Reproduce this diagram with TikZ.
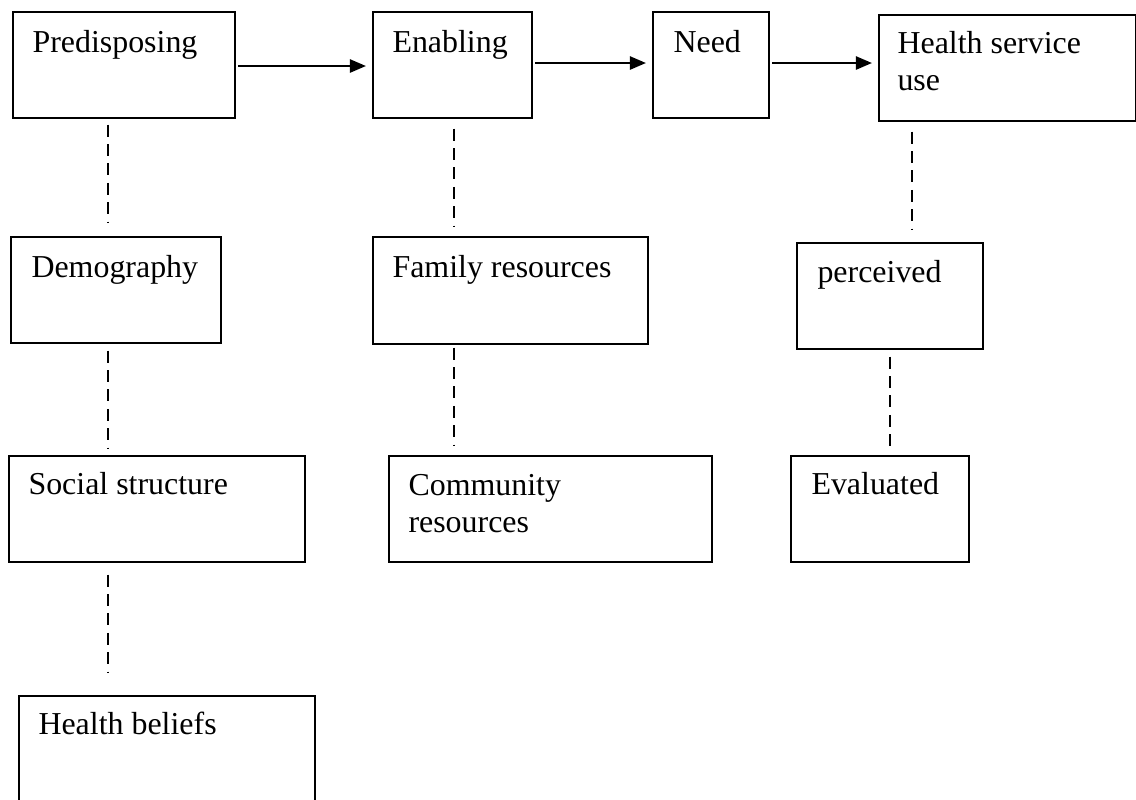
\documentclass[tikz,border=0pt]{standalone}
\usepackage{fontspec}
\setmainfont{Liberation Serif}
\usetikzlibrary{arrows.meta,calc}
\newcommand{\px}{0.376pt}
\tikzset{
  box/.style={draw, line width=0.6pt, inner sep=0pt, anchor=north west},
  lbl/.style={anchor=base west, inner sep=0pt, align=left,
    font=\fontsize{12}{13.8}\selectfont},
  flow/.style={line width=0.6pt, -{Triangle[length=6pt,width=5pt]},
    shorten <=1pt, shorten >=2.3pt},
  link/.style={line width=0.6pt, dash pattern=on 4.5pt off 2.8pt}
}
\begin{document}
\begin{tikzpicture}[x=\px,y=-\px]
          \clip (0,0) rectangle (1136,799);
          % top row
          \node[box, minimum width=222*\px, minimum height=106*\px] (pre) at (12,11) {};
          \node[box, minimum width=159*\px, minimum height=106*\px] (en) at (372,11) {};
          \node[box, minimum width=116*\px, minimum height=106*\px] (need) at (652,11) {};
          \node[box, minimum width=257*\px, minimum height=106*\px] (hsu) at (878,14) {};
          % second row
          \node[box, minimum width=210*\px, minimum height=106*\px] (demo) at (10,236) {};
          \node[box, minimum width=275*\px, minimum height=107*\px] (fam) at (372,236) {};
          \node[box, minimum width=186*\px, minimum height=106*\px] (perc) at (796,242) {};
          % third row
          \node[box, minimum width=296*\px, minimum height=106*\px] (soc) at (8,455) {};
          \node[box, minimum width=323*\px, minimum height=106*\px] (com) at (388,455) {};
          \node[box, minimum width=178*\px, minimum height=106*\px] (eval) at (790,455) {};
          % last row
          \node[box, minimum width=296*\px, minimum height=130*\px] (bel) at (18,695) {};
          % labels (base of two-line labels sits on the last line)
          \node[lbl] (preT) at ($(pre.north west)+(20,41)$) {Predisposing};
          \node[lbl] (enT) at ($(en.north west)+(20,41)$) {Enabling};
          \node[lbl] (needT) at ($(need.north west)+(21,41)$) {Need};
          \node[lbl] (hsuT) at ($(hsu.north west)+(19,76)$) {Health service\\use};
          \node[lbl] (demoT) at ($(demo.north west)+(21,41)$) {Demography};
          \node[lbl] (famT) at ($(fam.north west)+(20,41)$) {Family resources};
          \node[lbl] (percT) at ($(perc.north west)+(21,40)$) {perceived};
          \node[lbl] (socT) at ($(soc.north west)+(20,39)$) {Social structure};
          \node[lbl] (comT) at ($(com.north west)+(20,77)$) {Community\\resources};
          \node[lbl] (evalT) at ($(eval.north west)+(21,39)$) {Evaluated};
          \node[lbl] (belT) at ($(bel.north west)+(20,39)$) {Health beliefs};
          % arrows
          \draw[flow] ($(pre.north east)+(0,55)$) -- ($(en.north west)+(0,55)$);
          \draw[flow] ($(en.north east)+(0,52)$) -- ($(need.north west)+(0,52)$);
          \draw[flow] ($(need.north east)+(0,52)$) -- ($(hsu.north west)+(0,49)$);
          % dashed links
          \draw[link] ($(pre.south west)+(96,6)$) -- ($(demo.north west)+(98,-13)$);
          \draw[link] ($(demo.south west)+(98,7)$) -- ($(soc.north west)+(100,-6)$);
          \draw[link] ($(soc.south west)+(100,12)$) -- ($(bel.north west)+(90,-22)$);
          \draw[link] ($(en.south west)+(82,10)$) -- ($(fam.north west)+(82,-9)$);
          \draw[link] ($(fam.south west)+(82,3)$) -- ($(com.north west)+(66,-10)$);
          \draw[link] ($(hsu.south west)+(34,10)$) -- ($(perc.north west)+(116,-12)$);
          \draw[link] ($(perc.south west)+(94,7)$) -- ($(eval.north west)+(100,-2)$);
\end{tikzpicture}
\end{document}
